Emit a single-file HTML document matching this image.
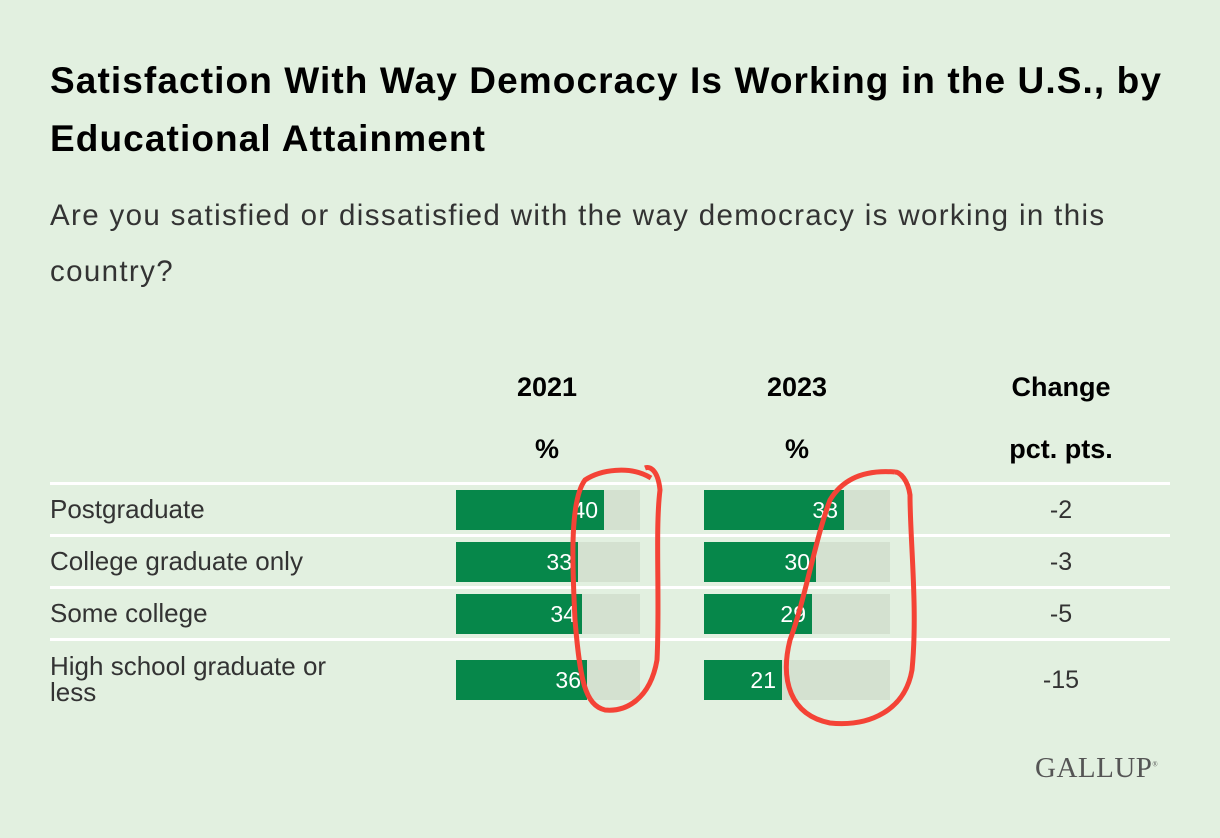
<!DOCTYPE html>
<html><head><style>
body{margin:0;width:1220px;height:838px;background:#e2f0e0;font-family:"Liberation Sans",sans-serif;position:relative;overflow:hidden;color:#000}
.a{position:absolute;white-space:nowrap}
h1{position:absolute;left:50px;top:52px;margin:0;font-size:37px;letter-spacing:1.1px;line-height:58px;font-weight:bold;width:1165px}
.sub{left:50px;top:188px;font-size:29.5px;letter-spacing:1.35px;line-height:56px;color:#333}
.hd{font-size:27px;font-weight:bold;text-align:center;width:200px}
.ln{position:absolute;left:50px;width:1120px;height:3px;background:#fff}
.lab{left:50px;font-size:26px;color:#333;line-height:26px}
.bg{position:absolute;height:40px;background:#d4e1d0}
.g{position:absolute;height:40px;background:#06874a;color:#fff;font-size:23px;line-height:40px;text-align:right;box-sizing:border-box;padding-right:6px}
.ch{font-size:25px;color:#333;width:200px;text-align:center}
</style></head><body>
<h1>Satisfaction With Way Democracy Is Working in the U.S., by Educational Attainment</h1>
<div class="a sub">Are you satisfied or dissatisfied with the way democracy is working in this<br>country?</div>
<div class="a hd" style="left:447px;top:372px">2021</div>
<div class="a hd" style="left:447px;top:434px">%</div>
<div class="a hd" style="left:697px;top:372px">2023</div>
<div class="a hd" style="left:697px;top:434px">%</div>
<div class="a hd" style="left:961px;top:372px">Change</div>
<div class="a hd" style="left:961px;top:434px">pct. pts.</div>
<div class="ln" style="top:482px"></div><div class="ln" style="top:534px"></div><div class="ln" style="top:586px"></div><div class="ln" style="top:638px"></div>
<div class="a lab" style="top:496px">Postgraduate</div>
<div class="a lab" style="top:548px">College graduate only</div>
<div class="a lab" style="top:600px">Some college</div>
<div class="a lab" style="top:653px">High school graduate or<br>less</div>
<div class="bg" style="left:456px;top:490px;width:184px"></div><div class="g" style="left:456px;top:490px;width:148px">40</div>
<div class="bg" style="left:456px;top:542px;width:184px"></div><div class="g" style="left:456px;top:542px;width:122px">33</div>
<div class="bg" style="left:456px;top:594px;width:184px"></div><div class="g" style="left:456px;top:594px;width:126px">34</div>
<div class="bg" style="left:456px;top:660px;width:184px"></div><div class="g" style="left:456px;top:660px;width:131px">36</div>
<div class="bg" style="left:704px;top:490px;width:186px"></div><div class="g" style="left:704px;top:490px;width:140px">38</div>
<div class="bg" style="left:704px;top:542px;width:186px"></div><div class="g" style="left:704px;top:542px;width:112px">30</div>
<div class="bg" style="left:704px;top:594px;width:186px"></div><div class="g" style="left:704px;top:594px;width:108px">29</div>
<div class="bg" style="left:704px;top:660px;width:186px"></div><div class="g" style="left:704px;top:660px;width:78px">21</div>
<div class="a ch" style="left:961px;top:496px">-2</div>
<div class="a ch" style="left:961px;top:548px">-3</div>
<div class="a ch" style="left:961px;top:600px">-5</div>
<div class="a ch" style="left:961px;top:666px">-15</div>
<svg class="a" style="left:0;top:0" width="1220" height="838">
<path d="M651 478 C630 465 600 470 585 480 C570 500 572 560 575 620 C580 680 585 705 605 710 C625 712 650 700 657 660 C660 600 655 530 660 490 C658 470 650 466 645 468" fill="none" stroke="#f44336" stroke-width="5"/>
<path d="M895 472 C870 470 845 475 830 500 C815 540 805 600 790 640 C780 680 790 715 830 723 C870 727 905 710 912 670 C918 610 910 540 910 495 C908 480 900 472 895 472" fill="none" stroke="#f44336" stroke-width="5"/>
</svg>
<div class="a" style="left:1035px;top:752px;font-family:'Liberation Serif',serif;font-size:29px;color:#555;letter-spacing:0.5px">GALLUP<sup style="font-size:7px">®</sup></div>
</body></html>
